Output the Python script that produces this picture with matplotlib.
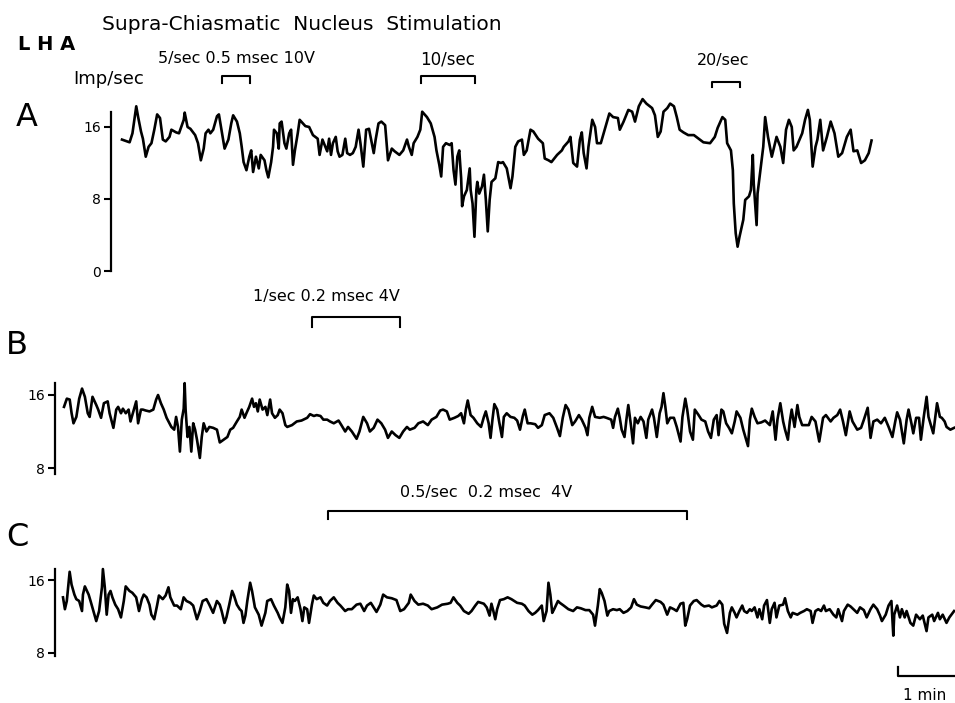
import matplotlib
matplotlib.use("Agg")
import matplotlib.pyplot as plt

plt.rcParams['font.family'] = ['DejaVu Sans']

# ---------------- data (time in s from trace start, rate in imp/sec) ----------------
tA = [0, 8, 11, 15, 17, 20, 22, 25, 28, 31, 34, 37, 40, 43, 46, 50, 52, 57, 60, 65,
      66, 69, 72, 77, 80, 83, 86, 88, 91, 93, 96, 100, 102, 105, 108, 112, 115, 117, 121, 124,
      126, 128, 131, 134, 136, 138, 141, 144, 146, 150, 152, 154, 157, 159, 160, 163, 165, 166, 168, 171,
      173, 176, 178, 180, 182, 185, 187, 193, 197, 201, 206, 208, 211, 214, 216, 218, 220, 222, 225, 227,
      229, 232, 235, 237, 240, 243, 246, 249, 251, 254, 257, 260,
      265, 267, 270, 273, 277, 280, 284, 287, 292, 296, 300, 302, 305, 307, 311, 314, 316, 321, 325, 329,
      331, 334, 336, 338, 341, 345, 347, 349, 351, 353, 355, 357, 358, 360, 363, 366, 367, 369, 371, 373,
      374, 376, 379, 381, 383, 385, 387, 389, 393, 396, 399, 401, 405, 409, 411, 414, 417, 421, 423, 426,
      430, 433, 438, 443, 445, 449, 452, 458, 463, 465, 470, 472, 475, 479, 482, 484, 486, 489, 491, 495,
      498, 500, 504, 507, 510, 513, 517, 522, 524, 528,
      533, 537, 540, 544, 548, 552, 558, 561, 564, 567, 570, 574, 577, 581, 584, 587, 591, 596, 602, 607,
      612, 619, 624, 627, 632, 635, 637, 641, 643, 644, 646, 648, 650, 654, 656, 660, 662, 664, 665, 668,
      669, 672, 675, 677, 680, 684, 689, 693, 696, 699, 702, 705, 707, 710, 716, 719, 722, 724, 727, 730,
      732, 735, 738, 742, 746, 750, 754, 758, 763, 767, 770, 774, 778, 782, 786, 789]
vA = [14.6, 14.3, 15.3, 18.3, 17.1, 15.5, 14.7, 12.7, 13.8, 14.2, 15.7, 17.4, 17.0, 14.6, 14.4, 14.9, 15.7, 15.4, 15.3, 16.8,
      17.6, 16.0, 15.8, 15.1, 14.2, 12.3, 13.6, 15.3, 15.7, 15.3, 15.7, 17.2, 17.4, 15.5, 13.6, 14.6, 16.4, 17.3, 16.6, 15.3,
      13.8, 12.1, 11.2, 12.7, 13.4, 11.0, 12.7, 11.4, 12.9, 12.3, 11.2, 10.4, 12.1, 13.8, 15.7, 15.3, 13.6, 16.4, 16.6, 14.2,
      13.6, 15.3, 15.7, 11.8, 13.4, 15.3, 16.8, 16.1, 16.0, 15.1, 14.7, 12.9, 14.6, 13.8, 13.3, 14.7, 12.9, 14.2, 14.9, 13.3,
      12.7, 12.9, 14.7, 13.1, 12.9, 13.1, 13.8, 15.7, 14.2, 11.6, 15.7, 15.8,
      13.1, 14.6, 16.4, 16.6, 16.2, 12.3, 13.6, 13.3, 12.9, 13.4, 14.6, 13.8, 12.9, 14.2, 14.9, 15.7, 17.7, 17.1, 16.4, 14.9,
      13.4, 11.8, 10.5, 13.8, 14.2, 14.0, 14.2, 11.2, 9.6, 12.7, 13.4, 10.3, 7.2, 8.3, 9.0, 11.4, 9.0, 7.5, 3.8, 9.0,
      9.9, 8.6, 9.4, 10.7, 7.9, 4.4, 7.9, 9.9, 10.3, 12.1, 12.0, 12.1, 11.4, 9.2, 10.5, 13.8, 14.4, 14.6, 12.9, 13.4,
      15.7, 15.5, 14.7, 14.2, 12.5, 12.3, 12.1, 12.9, 13.4, 13.8, 14.4, 14.9, 12.0, 11.6, 14.6, 15.4, 13.1, 11.4, 13.8, 16.8,
      16.0, 14.2, 14.2, 15.3, 16.4, 17.5, 17.1, 17.0, 15.7, 16.6,
      17.9, 17.7, 16.6, 18.3, 19.1, 18.6, 18.1, 17.3, 14.9, 15.5, 17.7, 18.1, 18.6, 18.3, 17.1, 15.7, 15.4, 15.1, 15.1, 14.7,
      14.3, 14.2, 14.9, 15.9, 17.1, 16.8, 14.2, 13.4, 11.2, 7.5, 4.2, 2.7, 3.8, 5.7, 7.9, 8.3, 9.0, 12.9, 9.7, 5.1,
      8.6, 11.2, 13.8, 17.1, 14.9, 12.7, 14.9, 13.8, 12.0, 15.7, 16.8, 16.0, 13.4, 13.8, 15.3, 16.8, 17.9, 16.8, 11.6, 13.8,
      14.6, 16.8, 13.4, 14.9, 16.6, 15.3, 12.7, 13.1, 14.9, 15.7, 13.3, 13.4, 12.0, 12.3, 13.1, 14.5]

tB = [0, 3, 6, 8, 10, 13, 16, 19, 22, 25, 27, 30, 34, 36, 39, 42, 46, 48, 52, 55,
      57, 60, 62, 65, 68, 70, 73, 76, 78, 81, 83, 86, 90, 94, 97, 99, 102, 105, 108, 111,
      113, 116, 118, 120, 122, 124, 126, 127, 128, 130, 132, 134, 136, 138, 140, 143, 145, 147, 150, 153,
      157, 161, 164, 168, 172, 175, 178, 182, 185, 187, 190, 192, 195, 198, 200, 202, 204, 206, 209, 212,
      214, 217, 219, 222, 225, 227, 230, 233, 235, 240, 245, 250, 256, 259, 263, 266, 270, 273, 277, 280,
      284, 289, 292, 296, 299, 303, 308, 311, 315, 319, 322, 326, 330, 334, 338, 341, 345, 349, 353, 357,
      361, 364, 369, 373, 378, 383, 387, 392, 396, 399, 403, 406, 411, 415, 418, 421, 423, 425, 428, 431,
      435, 439, 442, 444, 447, 449, 451, 453, 456, 458, 461, 463, 466, 470, 474, 477, 480, 483, 485, 488,
      491, 496, 499, 503, 506, 511, 515, 519, 522, 525, 528, 531, 535, 538, 542, 545, 549, 551, 553, 556,
      559, 564, 568, 571, 576, 578, 580, 583, 585, 587, 590, 592, 594, 597, 599, 601, 604, 607, 610, 613,
      615, 619, 621, 624, 627, 629, 631, 633, 635, 638, 642, 645, 649, 651, 654, 656, 659, 662, 664, 668,
      671, 675, 678, 681, 684, 687, 689, 692, 694, 697, 700, 703, 706, 708, 712, 715, 720, 722, 724, 727,
      730, 734, 738, 743, 746, 749, 751, 754, 757, 759, 762, 764, 766, 769, 772, 774, 777, 780, 784, 787,
      791, 795, 799, 802, 807, 810, 814, 817, 820, 823, 827, 830, 835, 839, 842, 846, 849, 852, 856, 860,
      864, 868, 872, 875, 877, 880, 884, 887, 889, 892, 894, 897, 900, 902, 905, 908, 910, 913, 915, 919,
      922, 924, 927, 929, 933, 937]
vB = [14.7, 15.6, 15.5, 14.0, 12.9, 13.6, 15.6, 16.7, 15.8, 14.0, 13.6, 15.8, 14.9, 14.4, 13.5, 15.1, 15.3, 14.0, 12.4, 14.4,
      14.7, 14.0, 14.5, 14.0, 14.4, 13.1, 14.2, 15.3, 12.9, 14.4, 14.4, 14.3, 14.2, 14.4, 15.5, 16.0, 15.1, 14.4, 13.5, 12.9,
      12.5, 12.2, 13.6, 12.5, 9.8, 13.3, 14.5, 17.3, 14.4, 11.4, 12.5, 9.8, 12.9, 12.2, 11.1, 9.1, 11.4, 12.9, 12.0, 12.5,
      12.4, 12.2, 10.8, 11.1, 11.4, 12.2, 12.4, 13.1, 13.6, 14.4, 13.5, 14.0, 14.7, 15.6, 14.7, 15.1, 14.2, 15.5, 14.4, 14.7,
      13.8, 15.5, 14.0, 13.5, 13.8, 14.4, 14.0, 12.7, 12.5, 12.7, 13.1, 13.2, 13.5, 13.9, 13.7, 13.8, 13.7, 13.3, 13.3, 13.1,
      12.9, 13.2, 12.7, 12.0, 12.5, 12.0, 11.2, 12.0, 13.6, 12.9, 12.0, 12.4, 13.3, 12.9, 12.2, 11.3, 12.0, 11.6, 11.3, 12.0,
      12.5, 12.2, 12.4, 12.9, 13.1, 12.7, 13.3, 13.6, 14.3, 14.4, 14.2, 13.3, 13.5, 13.7, 14.0, 12.9, 14.4, 15.4, 13.8, 13.5,
      12.9, 12.5, 13.6, 14.2, 12.9, 11.3, 13.3, 15.0, 14.4, 13.1, 11.4, 13.6, 14.0, 13.6, 13.5, 13.2, 12.2, 13.7, 14.4, 12.9,
      12.9, 12.8, 12.4, 12.7, 13.8, 14.0, 13.5, 12.4, 11.5, 13.5, 14.9, 14.4, 12.7, 13.1, 13.8, 13.3, 12.4, 11.6, 13.5, 14.7,
      13.6, 13.5, 13.6, 13.5, 13.3, 12.4, 13.6, 14.5, 13.5, 12.2, 11.4, 13.3, 14.9, 12.5, 10.7, 13.5, 12.9, 13.6, 13.1, 11.3,
      13.3, 14.4, 13.5, 11.4, 14.0, 14.7, 16.2, 14.7, 12.9, 13.5, 13.5, 12.5, 10.9, 13.6, 15.6, 14.4, 12.0, 11.1, 14.4, 13.8,
      13.3, 13.1, 12.0, 11.3, 13.3, 13.8, 11.6, 14.4, 14.2, 12.9, 12.4, 11.8, 13.1, 14.2, 13.5, 12.2, 10.4, 13.3, 14.5, 13.6,
      12.9, 13.0, 13.2, 12.7, 14.2, 11.1, 13.3, 15.1, 13.1, 12.2, 11.1, 13.1, 14.4, 12.5, 14.9, 13.6, 12.7, 12.7, 12.7, 13.6,
      13.1, 10.9, 13.5, 13.8, 13.1, 13.5, 13.8, 14.4, 13.1, 11.6, 14.2, 13.1, 12.2, 12.4, 13.3, 14.6, 11.3, 13.1, 13.3, 12.9,
      13.5, 12.5, 11.4, 13.1, 14.1, 13.3, 10.7, 13.3, 14.4, 12.9, 11.8, 13.5, 13.5, 11.1, 13.6, 15.8, 13.6, 12.5, 11.8, 15.1,
      13.6, 13.5, 13.1, 12.5, 12.2, 12.4]

tC = [0, 2, 4, 7, 9, 12, 14, 17, 20, 21, 23, 27, 29, 32, 35, 38, 41, 42, 44, 46,
      48, 50, 52, 55, 58, 61, 64, 66, 70, 73, 77, 80, 83, 85, 88, 91, 93, 96, 99, 101,
      105, 108, 111, 113, 117, 120, 124, 127, 130, 134, 137, 141, 144, 147, 151, 154, 158, 162, 165, 167,
      170, 172, 175, 178, 180, 183, 186, 188, 190, 192, 194, 197, 199, 202, 206, 209, 213, 215, 219, 222,
      226, 228, 231, 234, 236, 238, 240, 242, 244, 247, 250, 252, 254, 257, 259, 262, 264, 267, 271, 274,
      278, 281, 285, 289, 292, 297, 300,
      304, 309, 313, 317, 320, 324, 327, 330, 334, 337, 341, 346, 351, 355, 359, 364, 366, 370, 374, 379,
      384, 388, 394, 399, 405, 408, 411, 415, 418, 422, 427, 430, 434, 437, 443, 446, 449, 451, 453, 455,
      457, 460, 464, 468, 472, 478, 483, 486, 490, 494, 497, 500, 504, 506, 509, 510, 511, 513, 515, 517,
      521, 523, 527, 532, 537, 541, 545, 550, 554, 558, 560, 563, 565, 567, 570, 573, 575, 579, 583, 586,
      590, 594, 598, 601, 604, 608, 613, 617,
      620, 624, 629, 632, 636, 639, 643, 646, 650, 653, 655, 657, 660, 664, 667, 672, 675, 680, 683, 688,
      691, 694, 696, 699, 702, 704, 707, 709, 712, 715, 717, 720, 723, 725, 728, 731, 733, 736, 738, 741,
      744, 746, 749, 751, 754, 758, 760, 763, 766, 768, 773, 776, 780, 783, 787, 789, 792, 795, 798, 801,
      803, 807, 811, 814, 816, 820, 822, 826, 829, 832, 836, 839, 843, 846, 850, 853, 857, 860, 862, 866,
      869, 872, 874, 875, 878, 881, 883, 886, 888, 892, 895, 898, 902, 905, 909, 911, 915, 917, 921, 923,
      926, 930, 933, 938]
vC = [14.1, 12.8, 13.7, 16.9, 15.5, 14.4, 13.9, 13.7, 12.6, 14.4, 15.3, 14.4, 13.7, 12.6, 11.5, 12.6, 15.2, 17.2, 15.2, 12.2,
      14.4, 14.8, 14.1, 13.3, 12.8, 11.9, 13.7, 15.3, 14.8, 14.6, 14.1, 12.6, 13.9, 14.4, 14.1, 13.3, 12.2, 11.7, 13.2, 14.3,
      13.9, 14.3, 15.2, 14.1, 13.2, 13.2, 12.8, 14.1, 13.7, 13.5, 13.2, 11.7, 12.6, 13.7, 13.9, 13.3, 12.4, 13.7, 13.3, 12.6,
      11.3, 11.9, 13.3, 14.8, 14.3, 13.3, 12.8, 12.6, 11.3, 12.1, 13.7, 15.7, 14.8, 13.0, 12.2, 11.0, 12.4, 13.7, 13.9, 13.2,
      12.4, 11.9, 11.3, 13.0, 15.5, 14.8, 12.4, 13.9, 13.7, 14.1, 12.8, 11.5, 13.0, 12.8, 11.3, 13.3, 14.3, 13.9, 14.1, 13.5,
      13.2, 13.7, 14.1, 13.5, 13.2, 12.6, 12.8,
      12.8, 13.3, 13.4, 12.6, 13.2, 13.5, 13.0, 12.5, 13.3, 14.4, 14.1, 14.0, 13.8, 12.6, 12.8, 13.5, 14.4, 13.7, 13.3, 13.4,
      13.2, 12.8, 13.0, 13.3, 13.4, 13.5, 14.1, 13.5, 13.2, 12.6, 12.3, 12.6, 13.2, 13.6, 13.4, 13.0, 12.1, 13.4, 12.6, 11.7,
      12.8, 13.8, 13.9, 14.1, 13.9, 13.5, 13.4, 13.2, 12.6, 12.2, 12.4, 12.7, 13.2, 11.5, 12.6, 14.1, 15.7, 14.4, 12.4, 12.8,
      13.7, 13.5, 13.2, 12.8, 12.6, 13.0, 12.9, 12.7, 12.7, 12.2, 11.0, 13.2, 15.0, 14.6, 13.7, 12.1, 12.6, 12.8, 12.7, 12.8,
      12.4, 12.6, 13.0, 13.9, 13.3, 13.1, 13.0, 12.9,
      13.3, 13.8, 13.6, 13.3, 12.2, 13.0, 12.8, 12.6, 13.4, 13.5, 11.0, 11.7, 13.2, 13.7, 13.8, 13.3, 13.1, 13.2, 13.0, 13.2,
      13.7, 13.3, 11.2, 10.2, 12.4, 13.0, 12.4, 11.9, 12.6, 13.2, 12.6, 12.4, 12.8, 12.6, 13.0, 11.9, 12.8, 11.7, 13.2, 13.8,
      11.3, 12.8, 13.5, 11.9, 13.2, 13.3, 14.0, 12.6, 11.9, 12.4, 12.2, 12.4, 12.6, 12.8, 12.6, 11.3, 12.6, 12.8, 12.6, 13.2,
      12.6, 12.8, 12.2, 11.9, 12.8, 11.5, 12.6, 13.3, 13.1, 12.8, 12.4, 13.0, 12.7, 11.9, 12.8, 13.3, 12.8, 12.1, 11.5, 12.2,
      13.2, 13.7, 9.9, 12.2, 13.2, 11.9, 12.8, 11.9, 12.6, 11.3, 11.0, 12.2, 11.7, 12.1, 10.4, 11.9, 12.2, 11.5, 12.4, 11.7,
      12.2, 11.3, 11.9, 12.6]

# stimulation periods (s from trace start) and their labels
stimA = [(105, 135), (315, 372), (621, 651)]
stimA_labels = ["5/sec 0.5 msec 10V", "10/sec", "20/sec"]
stimB = [(261, 354)]
stimB_labels = ["1/sec 0.2 msec 4V"]
stimC = [(279, 657)]
stimC_labels = ["0.5/sec  0.2 msec  4V"]
yticksA = [0, 8, 16]
yticksBC = [8, 16]
scale_bar_s = 60

# ---------------- layout helpers (pixels) ----------------
W, H = 955, 703
PX_PER_S = 57 / 60.0
fig = plt.figure(figsize=(W / 100, H / 100), dpi=100)

def panel(L, R, T, B, x0, y16, ppu):
    ax = fig.add_axes([L / W, 1 - B / H, (R - L) / W, (B - T) / H])
    ax.set_facecolor('none')
    ax.set_xlim((L - x0) / PX_PER_S, (R - x0) / PX_PER_S)
    ax.set_ylim(16 - (B - y16) / ppu, 16 + (y16 - T) / ppu)
    for s in ('top', 'right', 'bottom'):
        ax.spines[s].set_visible(False)
    ax.spines['left'].set_linewidth(1.6)
    ax.set_xticks([])
    ax.tick_params(axis='y', direction='out', length=5, width=1.5, labelsize=10, pad=2)
    return ax

axA = panel(111, 955, 40, 285, 122, 127, 9.0)
axB = panel(55, 955, 280, 485, 64, 395, 9.125)
axC = panel(55, 955, 470, 703, 63, 580, 9.125)

LW = 1.9
axA.plot(tA, vA, color='black', lw=LW, solid_joinstyle='round', clip_on=False)
axB.plot(tB, vB, color='black', lw=LW, solid_joinstyle='round', clip_on=False)
axC.plot(tC, vC, color='black', lw=LW, solid_joinstyle='round', clip_on=False)

axA.set_yticks(yticksA)
axA.spines['left'].set_bounds(0, 17.7)
axB.set_yticks(yticksBC)
axB.spines['left'].set_bounds(7.3, 17.3)
axC.set_yticks(yticksBC)
axC.spines['left'].set_bounds(7.7, 17.2)

def bracket(ax, s, e, hi, lo, label=None, lx=None, ly=None, fs=10):
    ax.plot([s, s, e, e], [lo, hi, hi, lo], color='black', lw=1.5, clip_on=False)
    if label:
        ax.text(lx, ly, label, fontsize=fs, ha='left', va='center', clip_on=False)

# panel A stimulus brackets
bracket(axA, *stimA[0], 21.7, 20.9, stimA_labels[0], (158 - 122) / PX_PER_S, 16 + (127 - 59) / 9.0, 11.5)
bracket(axA, *stimA[1], 21.7, 20.9, stimA_labels[1], (420 - 122) / PX_PER_S, 16 + (127 - 59) / 9.0, 12)
bracket(axA, *stimA[2], 21.0, 20.4, stimA_labels[2], (697 - 122) / PX_PER_S, 16 + (127 - 61) / 9.0, 11.5)
# panel B
bracket(axB, *stimB[0], 16 + (395 - 317) / 9.125, 16 + (395 - 327) / 9.125,
        stimB_labels[0], (253 - 64) / PX_PER_S, 16 + (395 - 296) / 9.125, 11.5)
# panel C
bracket(axC, *stimC[0], 16 + (580 - 511) / 9.125, 16 + (580 - 519) / 9.125,
        stimC_labels[0], (400 - 63) / PX_PER_S, 16 + (580 - 492) / 9.125, 11.5)

# 1 min scale bar in panel C
sb0 = (898 - 63) / PX_PER_S
yb = 16 - (676 - 580) / 9.125
axC.plot([sb0, sb0, sb0 + scale_bar_s], [yb + 1.0, yb, yb], color='black', lw=1.6, clip_on=False)
axC.text(sb0 + 5, yb - 2.1, "1 min", fontsize=11, ha='left', va='center', clip_on=False)

# titles and panel letters
def ftext(x, y, s, **kw):
    fig.text(x / W, 1 - y / H, s, **kw)

ftext(102, 24, "Supra-Chiasmatic  Nucleus  Stimulation", fontsize=14.5, ha='left', va='center')
ftext(18, 45, "L H A", fontsize=14, fontweight='bold', ha='left', va='center')
ftext(73, 79, "Imp/sec", fontsize=13, ha='left', va='center')
ftext(16, 117, "A", fontsize=23, ha='left', va='center')
ftext(6, 345, "B", fontsize=23, ha='left', va='center')
ftext(6, 537, "C", fontsize=23, ha='left', va='center')

fig.savefig("out.png", dpi=100)
